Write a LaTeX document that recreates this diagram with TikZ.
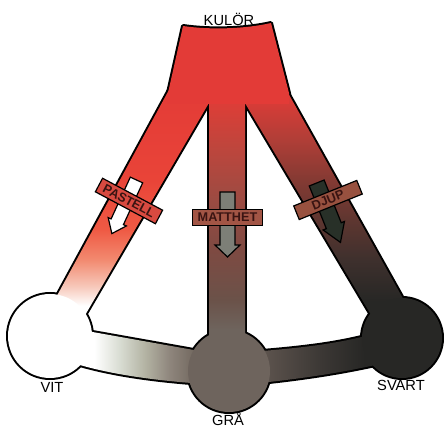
\documentclass[tikz,border=0pt]{standalone}
\usepackage{fontspec}
\setmainfont{Liberation Sans}
\usetikzlibrary{calc}
\definecolor{kred}{HTML}{E33B37}
\definecolor{lpink}{HTML}{F7C8BA}
\definecolor{lsalmon}{HTML}{F28A70}
\definecolor{lorange}{HTML}{EF5A44}
\definecolor{lred}{HTML}{E94438}
\definecolor{mgray}{HTML}{6E645D}
\definecolor{m1}{HTML}{6B5249}
\definecolor{m2}{HTML}{7E4A42}
\definecolor{m3}{HTML}{9C4B42}
\definecolor{m4}{HTML}{BC463D}
\definecolor{m5}{HTML}{D83F38}
\definecolor{svcol}{HTML}{272725}
\definecolor{r1}{HTML}{3E302D}
\definecolor{r2}{HTML}{5E3630}
\definecolor{r3}{HTML}{843A33}
\definecolor{r4}{HTML}{B03E37}
\definecolor{r5}{HTML}{DA3C37}
\definecolor{b1}{HTML}{D8DCD2}
\definecolor{b2}{HTML}{B3B3A3}
\definecolor{b3}{HTML}{8E857C}
\definecolor{b4}{HTML}{72685F}
\definecolor{c1}{HTML}{5C534D}
\definecolor{c2}{HTML}{3C3835}
\definecolor{pastfill}{HTML}{D84A40}
\definecolor{mattfill}{HTML}{A25545}
\definecolor{djupfill}{HTML}{98513F}
\definecolor{tagtext}{HTML}{3A1412}
\definecolor{arrgray}{HTML}{7D7F77}
\definecolor{arrdark}{HTML}{283028}
\pgfdeclareverticalshading{legL}{100bp}{color(0bp)=(white); color(30bp)=(white); color(34bp)=(lpink); color(39.5bp)=(lsalmon); color(45.7bp)=(lorange); color(56bp)=(lred); color(75bp)=(kred); color(100bp)=(kred)}
\pgfdeclareverticalshading{legM}{100bp}{color(0bp)=(mgray); color(28bp)=(mgray); color(33.8bp)=(m1); color(43.5bp)=(m2); color(53.2bp)=(m3); color(62.9bp)=(m4); color(70.7bp)=(m5); color(75bp)=(kred); color(100bp)=(kred)}
\pgfdeclareverticalshading{legR}{100bp}{color(0bp)=(svcol); color(31bp)=(svcol); color(39.5bp)=(r1); color(47.7bp)=(r2); color(56bp)=(r3); color(64.3bp)=(r4); color(72.5bp)=(r5); color(75bp)=(kred); color(100bp)=(kred)}
\pgfdeclarehorizontalshading{bandL}{100bp}{color(0bp)=(white); color(34bp)=(white); color(43.5bp)=(b1); color(52.8bp)=(b2); color(62bp)=(b3); color(71.3bp)=(b4); color(75bp)=(mgray); color(100bp)=(mgray)}
\pgfdeclarehorizontalshading{bandR}{100bp}{color(0bp)=(mgray); color(25bp)=(mgray); color(31bp)=(c1); color(52bp)=(c2); color(69bp)=(svcol); color(100bp)=(svcol)}
\def\pLegL{(170,88) -- (217.7,88) -- (76.4,330) -- (43.8,320) -- cycle}
\def\pLegM{(209,88) -- (245,88) -- (245,345) -- (209,345) -- cycle}
\def\pLegR{(236,88) -- (285.3,88) -- (415,320) -- (380,330) -- cycle}
\def\pBandL{(70,328) .. controls (115,336) and (160,344) .. (205,352) -- (205,384) .. controls (160,381) and (110,375) .. (70,362) -- cycle}
\def\pBandR{(250,352) .. controls (300,348) and (340,344) .. (380,332) -- (380,364) .. controls (340,373) and (300,379) .. (250,384) -- cycle}
\def\pVit{(50,336) circle[radius=42]}
\def\pGra{(229,371) circle[radius=41]}
\def\pSvart{(402,338) circle[radius=40]}
\def\pTop{(183,26) .. controls (210,30) and (245,29) .. (271,23) -- (289,93) -- (289,104) -- (167,104) -- (168,93) -- cycle}
\tikzset{
  outline/.style={draw=black, line width=3pt, line join=round},
  arr/.style={draw=black, line width=0.9pt, line join=miter},
  tag/.style={draw=black, line width=0.9pt, inner sep=1pt, text=tagtext, font=\bfseries\fontsize{9.5}{10}\selectfont},
  lbl/.style={inner sep=0pt, text=black, font=\fontsize{11}{12}\selectfont}
}
\begin{document}
\begin{tikzpicture}[x=0.75pt,y=-0.75pt]
\useasboundingbox (0,0) rectangle (444,427);
\fill[white] (0,0) rectangle (444,427);
% outline pass
\draw[outline] \pLegL;
\draw[outline] \pLegM;
\draw[outline] \pLegR;
\draw[outline] \pBandL;
\draw[outline] \pBandR;
\draw[outline] \pVit;
\draw[outline] \pGra;
\draw[outline] \pSvart;
\draw[outline] \pTop;
% fill pass
\shade[shading=legL] \pLegL;
\shade[shading=legM] \pLegM;
\shade[shading=legR] \pLegR;
\shade[shading=bandL] \pBandL;
\shade[shading=bandR] \pBandR;
\fill[white] \pVit;
\fill[mgray] \pGra;
\fill[svcol] \pSvart;
\fill[kred] \pTop;
% arrows
\begin{scope}[shift={(136.5,180)}, rotate=-24.7]
  \draw[arr, fill=white] (-6.8,0) -- (6.8,0) -- (6.8,46) -- (10,46) -- (0,59) -- (-10,46) -- (-6.8,46) -- cycle;
\end{scope}
\begin{scope}[shift={(227.5,192)}]
  \draw[arr, fill=arrgray] (-7.5,0) -- (7.5,0) -- (7.5,53) -- (12.5,53) -- (0,65) -- (-12.5,53) -- (-7.5,53) -- cycle;
\end{scope}
\begin{scope}[shift={(316.7,183)}, rotate=21.8]
  \draw[arr, fill=arrdark] (-8,0) -- (8,0) -- (8,46) -- (11.5,46) -- (0,64) -- (-11.5,46) -- (-8,46) -- cycle;
\end{scope}
% tags
\node[tag, fill=pastfill, rotate=-28, minimum width=51pt, minimum height=11.5pt] (pastell) at (129,201) {PASTELL};
\node[tag, fill=mattfill, minimum width=52pt, minimum height=12.5pt] (matthet) at (227.5,217.5) {MATTHET};
\node[tag, fill=djupfill, rotate=22, minimum width=51pt, minimum height=11pt] (djup) at (328,200) {DJUP};
% labels
\node[lbl] (kulor) at (229,19) {KULÖR};
\node[lbl] (vit) at (52,387) {VIT};
\node[lbl] (gra) at (228,419) {GRÅ};
\node[lbl] (svart) at (401,385) {SVART};
\end{tikzpicture}
\end{document}
